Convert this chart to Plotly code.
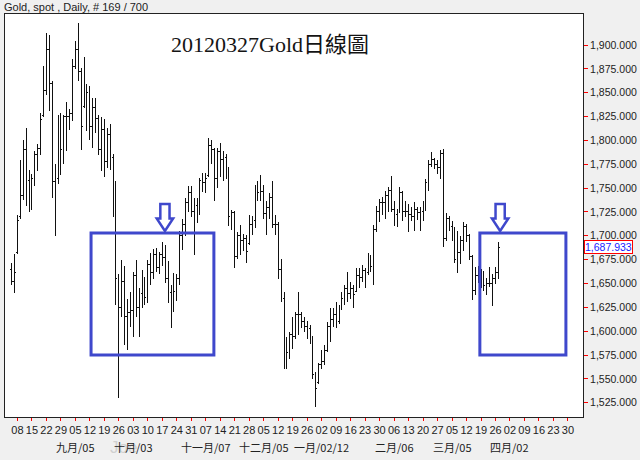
import pandas as pd
import plotly.graph_objects as go

# ---------------- data ----------------
start_date = "2011-08-04"
axis_end_date = "2012-04-30"
n_bars = 169

opens = [
    1665, 1652, 1683, 1720, 1742, 1790, 1758, 1745, 1760, 1785,
    1792, 1826, 1852, 1895, 1860, 1757, 1760, 1820, 1790, 1825,
    1825, 1828, 1878, 1895, 1872, 1836, 1855, 1850, 1815, 1835,
    1823, 1790, 1812, 1778, 1806, 1782, 1740, 1655, 1625, 1652,
    1615, 1620, 1622, 1658, 1625, 1640, 1650, 1635, 1670, 1662,
    1680, 1667, 1680, 1677, 1655, 1641, 1640, 1642, 1655, 1700,
    1712, 1735, 1745, 1725, 1732, 1732, 1758, 1756, 1763, 1795,
    1790, 1760, 1788, 1780, 1782, 1770, 1720, 1724, 1678, 1700,
    1695, 1697, 1692, 1712, 1716, 1747, 1745, 1746, 1723, 1730,
    1740, 1712, 1712, 1665, 1634, 1572, 1578, 1596, 1594, 1618,
    1617, 1610, 1605, 1603, 1594, 1555, 1546, 1565, 1568, 1580,
    1605, 1612, 1618, 1610, 1625, 1634, 1645, 1640, 1645, 1642,
    1658, 1656, 1664, 1662, 1675, 1668, 1707, 1725, 1735, 1735,
    1742, 1748, 1728, 1722, 1725, 1745, 1725, 1725, 1722, 1720,
    1728, 1724, 1725, 1735, 1756, 1775, 1780, 1775, 1772, 1786,
    1697, 1718, 1710, 1705, 1675, 1683, 1695, 1710, 1700, 1678,
    1643, 1658, 1656, 1662, 1648, 1650, 1650, 1655, 1662,
]
highs = [
    1671, 1681, 1722, 1780, 1800, 1813, 1769, 1765, 1789, 1796,
    1829, 1878, 1913, 1911, 1862, 1775, 1827, 1829, 1827, 1840,
    1833, 1885, 1904, 1923, 1876, 1887, 1859, 1857, 1845, 1845,
    1827, 1825, 1822, 1813, 1817, 1786, 1757, 1660, 1675, 1668,
    1634, 1641, 1662, 1675, 1645, 1664, 1657, 1675, 1682, 1686,
    1687, 1683, 1694, 1690, 1674, 1648, 1661, 1660, 1705, 1718,
    1740, 1752, 1752, 1740, 1740, 1761, 1766, 1766, 1803, 1801,
    1792, 1792, 1797, 1789, 1786, 1772, 1727, 1726, 1704, 1711,
    1702, 1701, 1722, 1721, 1753, 1757, 1764, 1753, 1736, 1745,
    1757, 1722, 1715, 1676, 1641, 1594, 1599, 1615, 1620, 1641,
    1620, 1615, 1611, 1606, 1595, 1557, 1567, 1580, 1585, 1610,
    1624, 1624, 1631, 1627, 1641, 1648, 1662, 1652, 1648, 1666,
    1666, 1669, 1666, 1682, 1680, 1711, 1731, 1739, 1741, 1747,
    1751, 1763, 1737, 1728, 1751, 1747, 1737, 1733, 1730, 1735,
    1730, 1730, 1737, 1760, 1779, 1788, 1782, 1779, 1790, 1791,
    1724, 1721, 1716, 1709, 1705, 1700, 1714, 1712, 1702, 1680,
    1667, 1668, 1665, 1663, 1656, 1667, 1660, 1667, 1693,
]
lows = [
    1648, 1640, 1681, 1718, 1738, 1731, 1725, 1727, 1752, 1768,
    1785, 1825, 1848, 1831, 1740, 1700, 1754, 1764, 1775, 1789,
    1811, 1820, 1875, 1862, 1790, 1834, 1810, 1801, 1792, 1808,
    1785, 1768, 1762, 1771, 1769, 1720, 1627, 1530, 1615, 1585,
    1580, 1604, 1594, 1615, 1594, 1624, 1627, 1630, 1648, 1655,
    1662, 1660, 1668, 1650, 1630, 1603, 1620, 1632, 1648, 1685,
    1700, 1725, 1720, 1680, 1713, 1722, 1746, 1745, 1762, 1775,
    1736, 1750, 1762, 1757, 1760, 1710, 1706, 1666, 1676, 1680,
    1684, 1671, 1690, 1701, 1708, 1736, 1736, 1718, 1701, 1718,
    1708, 1701, 1655, 1631, 1560, 1560, 1571, 1581, 1592, 1596,
    1603, 1599, 1592, 1587, 1550, 1520, 1545, 1560, 1565, 1578,
    1589, 1604, 1603, 1608, 1622, 1627, 1631, 1634, 1624, 1641,
    1645, 1652, 1645, 1659, 1662, 1648, 1704, 1715, 1722, 1718,
    1725, 1725, 1710, 1709, 1724, 1716, 1720, 1704, 1716, 1705,
    1717, 1705, 1716, 1726, 1747, 1772, 1770, 1765, 1760, 1688,
    1695, 1705, 1695, 1672, 1661, 1670, 1684, 1693, 1675, 1633,
    1638, 1650, 1645, 1642, 1638, 1646, 1626, 1649, 1655,
]
closes = [
    1652, 1662, 1716, 1742, 1790, 1758, 1745, 1760, 1785, 1792,
    1822, 1852, 1895, 1860, 1757, 1722, 1820, 1790, 1825, 1825,
    1828, 1878, 1895, 1872, 1815, 1858, 1850, 1815, 1835, 1823,
    1790, 1812, 1778, 1806, 1790, 1740, 1655, 1625, 1652, 1615,
    1620, 1622, 1658, 1625, 1640, 1650, 1635, 1670, 1662, 1680,
    1667, 1680, 1677, 1655, 1641, 1640, 1642, 1655, 1700, 1712,
    1735, 1745, 1725, 1732, 1732, 1758, 1756, 1760, 1795, 1790,
    1760, 1788, 1780, 1782, 1770, 1720, 1724, 1678, 1700, 1695,
    1697, 1684, 1712, 1716, 1747, 1745, 1746, 1723, 1730, 1740,
    1712, 1712, 1665, 1634, 1572, 1578, 1596, 1594, 1618, 1617,
    1610, 1605, 1603, 1594, 1555, 1540, 1565, 1568, 1580, 1605,
    1612, 1618, 1610, 1625, 1634, 1645, 1640, 1645, 1638, 1658,
    1656, 1664, 1662, 1675, 1668, 1707, 1725, 1735, 1735, 1742,
    1748, 1728, 1722, 1725, 1745, 1725, 1725, 1722, 1720, 1728,
    1724, 1725, 1735, 1756, 1775, 1780, 1775, 1772, 1786, 1697,
    1718, 1710, 1705, 1675, 1683, 1695, 1710, 1700, 1678, 1643,
    1658, 1656, 1662, 1648, 1650, 1650, 1655, 1662, 1687.933,
]

month_labels = ["九月/05", "十月/03", "十一月/07", "十二月/05",
                "一月/02/12", "二月/06", "三月/05", "四月/02"]
month_dates = ["2011-09-05", "2011-10-03", "2011-11-07", "2011-12-05",
               "2012-01-02", "2012-02-06", "2012-03-05", "2012-04-02"]

y_ticks = [1525, 1550, 1575, 1600, 1625, 1650, 1675, 1700, 1725,
           1750, 1775, 1800, 1825, 1850, 1875, 1900]

title_text = "20120327Gold日線圖"
header_text = "Gold, spot , Daily, # 169 / 700"

# ---------------- axis helpers ----------------
calendar = pd.bdate_range(start_date, axis_end_date)
dates = calendar[:n_bars]
x_idx = list(range(n_bars))
date_pos = {d.strftime("%Y-%m-%d"): i for i, d in enumerate(calendar)}
tick_idx = [i for i, d in enumerate(calendar) if d.weekday() == 0]
tick_txt = [calendar[i].strftime("%d") for i in tick_idx]

X_RANGE = [-2.3, 197.2]
Y_RANGE = [1510, 1932.6]
W, H = 640, 460
ML, MR, MT, MB = 5, 57, 14, 43
PW, PH = W - ML - MR, H - MT - MB
px_x = (X_RANGE[1] - X_RANGE[0]) / PW
px_y = (Y_RANGE[1] - Y_RANGE[0]) / PH

BLUE = "#3f48cc"

fig = go.Figure()
fig.add_trace(go.Ohlc(
    x=x_idx, open=opens, high=highs, low=lows, close=closes,
    text=[d.strftime("%Y-%m-%d") for d in dates],
    increasing=dict(line=dict(color="#111111", width=1)),
    decreasing=dict(line=dict(color="#111111", width=1)),
    tickwidth=0.45, showlegend=False,
))

shapes = []
for x0, x1 in [(27.4, 69.8), (161.6, 191.3)]:
    shapes.append(dict(type="rect", xref="x", yref="y", x0=x0, x1=x1,
                       y0=1575, y1=1703, line=dict(color=BLUE, width=3),
                       fillcolor="rgba(0,0,0,0)"))


def arrow(cx):
    # pixel geometry of a hollow down arrow, converted to data units
    top_py, head_py, tip_py = 204, 218.5, 231
    sw, hw = 4.6, 8.2

    def yv(py):
        return Y_RANGE[1] - (py - MT) * px_y
    pts = [(-sw, top_py), (sw, top_py), (sw, head_py), (hw, head_py),
           (0, tip_py), (-hw, head_py), (-sw, head_py)]
    path = "M " + " L ".join(f"{cx + dx * px_x:.4f},{yv(py):.4f}" for dx, py in pts) + " Z"
    return dict(type="path", xref="x", yref="y", path=path,
                line=dict(color=BLUE, width=2.5), fillcolor="white")


shapes.append(arrow(52.9))
shapes.append(arrow(168.6))

month_y = -(447 - (H - MB)) / PH

annotations = [
    dict(text=title_text, xref="paper", yref="paper",
         x=(270 - ML) / PW, y=1 - (45 - MT) / PH, showarrow=False,
         xanchor="center", yanchor="middle",
         font=dict(family="Liberation Serif, Noto Sans CJK TC", size=22, color="#141414")),
    dict(text=header_text, xref="paper", yref="paper",
         x=-3 / PW, y=1 + (MT - 7) / PH, showarrow=False,
         xanchor="left", yanchor="middle",
         font=dict(family="Liberation Sans, Arial", size=11, color="#222")),
    dict(text=f"{closes[-1]:,.3f}", xref="paper", yref="y",
         x=1, y=closes[-1], showarrow=False, xanchor="left", yanchor="middle",
         xshift=1, font=dict(family="Liberation Sans, Arial", size=10.5, color="#1a1aff"),
         bordercolor="#ff0000", borderwidth=1, borderpad=0, bgcolor="white"),
    dict(text="Joe", xref="paper", yref="paper", x=(123 - ML) / PW,
         y=month_y, showarrow=False, xanchor="center",
         yanchor="middle", font=dict(family="Liberation Sans", size=17, color="#d0d0d0")),
]
for lab, d in zip(month_labels, month_dates):
    annotations.append(dict(
        text=lab, xref="x", yref="paper", x=date_pos[d], y=month_y,
        showarrow=False, xanchor="center", yanchor="middle",
        font=dict(family="Noto Sans CJK TC, Liberation Sans", size=11, color="#222")))

fig.update_layout(
    width=W, height=H, margin=dict(l=ML, r=MR, t=MT, b=MB, autoexpand=False),
    paper_bgcolor="#f0f0f0", plot_bgcolor="white",
    shapes=shapes, annotations=annotations, hovermode="closest",
    font=dict(family="Liberation Sans, Arial", size=11, color="#222"),
)
fig.update_xaxes(
    range=X_RANGE, rangeslider=dict(visible=False), showgrid=False, zeroline=False,
    automargin=False,
    tickmode="array", tickvals=tick_idx, ticktext=tick_txt,
    ticks="outside", ticklen=3, tickcolor="#ff0000", tickwidth=1,
    showline=True, linecolor="#222", linewidth=1, mirror=True,
    tickfont=dict(size=11, color="#222"),
)
fig.update_yaxes(
    range=Y_RANGE, side="right", showgrid=False, zeroline=False,
    automargin=False,
    tickmode="array", tickvals=y_ticks, tickformat=",.3f",
    ticks="outside", ticklen=4, tickcolor="#ff0000", tickwidth=1,
    showline=True, linecolor="#222", linewidth=1, mirror=True,
    tickfont=dict(size=10.5, color="#222"),
)

fig.write_html(
    "out.html",
    config={"displayModeBar": False},
    post_script=(
        "document.body.style.margin='0';"
        "document.body.style.background='#f0f0f0';"
        "document.querySelectorAll('.ohlc path').forEach(function(p){p.style.shapeRendering='crispEdges';});"
    ),
)
